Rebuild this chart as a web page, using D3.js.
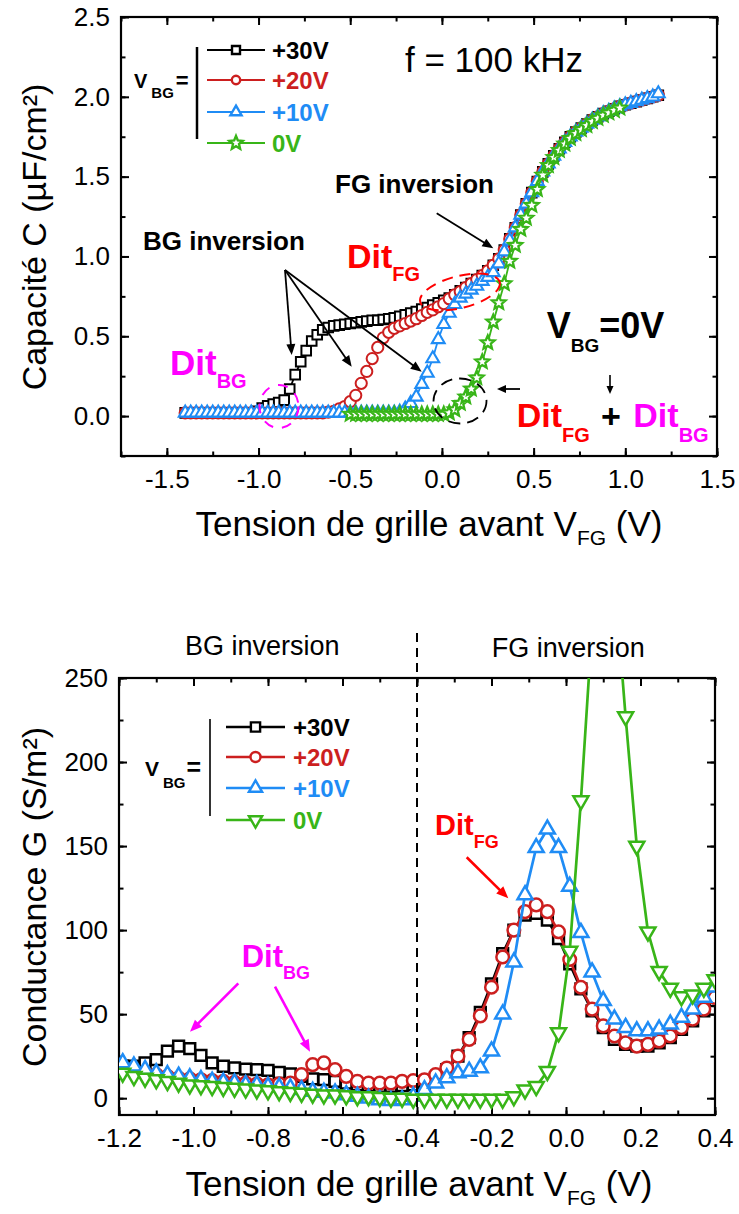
<!DOCTYPE html>
<html><head><meta charset="utf-8">
<script src="https://cdn.jsdelivr.net/npm/d3@7/dist/d3.min.js"></script>
<style>
html,body{margin:0;padding:0;background:#fff;}
svg{display:block;font-family:'Liberation Sans',Arial,Helvetica,sans-serif;}
</style></head><body>
<svg id="chart" width="739" height="1214"></svg>
<script>
// ================= DATA =================
const seriesLabels = ["+30V", "+20V", "+10V", "0V"];
const capXTicks = [-1.5, -1.0, -0.5, 0.0, 0.5, 1.0, 1.5];
const capYTicks = [0.0, 0.5, 1.0, 1.5, 2.0, 2.5];
const condXTicks = [-1.2, -1.0, -0.8, -0.6, -0.4, -0.2, 0.0, 0.2, 0.4];
const condYTicks = [0, 50, 100, 150, 200, 250];

// Top chart: capacitance C (uF/cm2) vs V_FG (V)
const capV = [
 -1.40,-1.37,-1.34,-1.31,-1.28,-1.25,-1.22,-1.19,-1.16,-1.13,
 -1.10,-1.07,-1.04,-1.01,-0.98,-0.95,-0.92,-0.89,-0.86,-0.83,
 -0.80,-0.77,-0.74,-0.71,-0.68,-0.65,-0.62,-0.59,-0.56,-0.53,
 -0.50,-0.47,-0.44,-0.41,-0.38,-0.35,-0.32,-0.29,-0.26,-0.23,
 -0.20,-0.17,-0.14,-0.11,-0.08,-0.05,-0.02,0.01,0.04,0.07,
 0.10,0.13,0.16,0.19,0.22,0.25,0.28,0.31,0.34,0.37,
 0.40,0.43,0.46,0.49,0.52,0.55,0.58,0.61,0.64,0.67,
 0.70,0.73,0.76,0.79,0.82,0.85,0.88,0.91,0.94,0.97,
 1.00,1.03,1.06,1.09,1.12,1.15,1.18];
const cap30 = [
 0.02,0.02,0.02,0.02,0.02,0.02,0.02,0.02,0.02,0.02,
 0.02,0.02,0.02,0.03,0.05,0.065,0.075,0.085,0.10,0.17,
 0.26,0.34,0.41,0.47,0.51,0.54,0.555,0.565,0.57,0.575,
 0.58,0.585,0.59,0.595,0.60,0.60,0.605,0.61,0.615,0.625,
 0.635,0.645,0.655,0.67,0.68,0.695,0.71,0.725,0.74,0.76,
 0.785,0.805,0.83,0.855,0.88,0.91,0.945,0.985,1.04,1.11,
 1.18,1.26,1.33,1.40,1.47,1.53,1.58,1.63,1.675,1.715,
 1.75,1.78,1.805,1.83,1.855,1.875,1.895,1.91,1.925,1.94,
 1.95,1.96,1.97,1.98,1.99,2.00,2.01];
const cap20 = [
 0.02,0.02,0.02,0.02,0.02,0.02,0.02,0.02,0.02,0.02,
 0.02,0.02,0.02,0.02,0.02,0.02,0.02,0.02,0.02,0.02,
 0.02,0.02,0.02,0.02,0.02,0.02,0.025,0.03,0.045,0.06,
 0.09,0.13,0.205,0.28,0.36,0.43,0.49,0.525,0.55,0.565,
 0.58,0.595,0.61,0.63,0.65,0.665,0.685,0.705,0.735,0.76,
 0.78,0.805,0.83,0.855,0.88,0.91,0.945,0.985,1.04,1.11,
 1.18,1.26,1.33,1.40,1.47,1.53,1.58,1.63,1.675,1.715,
 1.75,1.78,1.805,1.83,1.855,1.875,1.895,1.91,1.925,1.94,
 1.95,1.96,1.97,1.98,1.99,2.00,2.01];
const cap10 = [
 0.02,0.02,0.02,0.02,0.02,0.02,0.02,0.02,0.02,0.02,
 0.02,0.02,0.02,0.02,0.02,0.02,0.02,0.02,0.02,0.02,
 0.02,0.02,0.02,0.02,0.02,0.02,0.02,0.02,0.02,0.02,
 0.02,0.02,0.02,0.02,0.02,0.02,0.02,0.02,0.02,0.025,
 0.045,0.08,0.12,0.20,0.27,0.36,0.48,0.575,0.645,0.70,
 0.74,0.765,0.79,0.815,0.845,0.87,0.90,0.955,1.03,1.10,
 1.18,1.26,1.33,1.40,1.47,1.53,1.58,1.63,1.675,1.715,
 1.75,1.78,1.805,1.83,1.855,1.875,1.895,1.91,1.925,1.94,
 1.95,1.96,1.97,1.98,1.99,2.00,2.02];
const cap0V = capV.slice(30, 80);   // the 0V sweep covers -0.50 .. 0.97 V
const cap0 = [
 0.012,0.012,0.012,0.012,0.012,0.012,0.012,0.012,0.012,0.012,
 0.012,0.012,0.012,0.012,0.012,0.012,0.012,0.012,
 0.02,0.04,0.08,0.12,0.17,0.24,0.34,0.46,0.59,0.71,
 0.83,0.97,1.07,1.17,1.24,1.32,1.42,1.51,1.57,1.62,
 1.665,1.705,1.74,1.77,1.795,1.82,1.845,1.865,1.885,1.90,1.915,1.93];

// Bottom chart: conductance G (S/m2) vs V_FG (V)
const condV = [
 -1.19,-1.16,-1.13,-1.10,-1.07,-1.04,-1.01,-0.98,-0.95,-0.92,
 -0.89,-0.86,-0.83,-0.80,-0.77,-0.74,-0.71,-0.68,-0.65,-0.62,
 -0.59,-0.56,-0.53,-0.50,-0.47,-0.44,-0.41,-0.38,-0.35,-0.32,
 -0.29,-0.26,-0.23,-0.20,-0.17,-0.14,-0.11,-0.08,-0.05,-0.02,
 0.01,0.04,0.07,0.10,0.13,0.16,0.19,0.22,0.25,0.28,
 0.31,0.34,0.37,0.40];
const cond30 = [
 19,19,21,23,28,31,29.5,25.5,21,19,
 18,17.3,17,16.5,15.3,14.5,13,11.5,11,10,
 9,8,7.3,7,7,7.5,8,9,12,17,
 25,36,51,68,86,100,109,110,106,95,
 80,65,52,42,35,32,31,31,33,36,
 41,46,52,58];
const cond20 = [
 17,16,15,14,13,12,11.5,11,10.5,10,
 9.5,9,8.5,8,8.5,9,14,20,21,17,
 13,10,9,9,9,10,10.5,11,14,18,
 25,35,49,66,84,100,111,115,111,99,
 82.5,66,53,43,37,33,31,32,34,37,
 42,47,53,60];
const cond10 = [
 21,19,17,15,14,13,12,11,10,9.5,
 9,8,8,7,6.5,6,5,4,3.5,3,
 2,1,0,-1,-1.5,-1,1,5,9,12,
 15,16,18,28,50,81,121,149,160,149,
 126,98.5,75,58,47,42,40,40,41,44,
 48,53,60,66];
const cond0 = [
 15,13,12,11,10,9,8,7.5,7,6.5,
 6,5.5,5,4.5,4,3.5,3,2.5,2,2,
 1.5,1,1,0.5,0,0,-0.5,-0.5,-0.5,-0.5,
 -0.5,-0.5,-0.5,-0.5,-0.5,1,5,7,16,39,
 87.5,177,280,340,310,227,150,99,75.5,65.5,
 60.5,61.5,65.5,70.5];

// ================= STYLE =================
const C = {k: '#000000', r: '#cc1f1f', b: '#1f8cf5', g: '#38b518', dr: '#ff0000', mg: '#ff00ff'};
const svg = d3.select('#chart');
const defs = svg.append('defs');

function symPath(type, s) {
  const h = s * Math.sqrt(3);
  switch (type) {
    case 'square': return `M${-s},${-s}H${s}V${s}H${-s}Z`;
    case 'circle': return `M${s},0A${s},${s} 0 1,1 ${-s},0A${s},${s} 0 1,1 ${s},0Z`;
    case 'up': return `M0,${-h * 2 / 3}L${s},${h / 3}L${-s},${h / 3}Z`;
    case 'down': return `M0,${h * 2 / 3}L${s},${-h / 3}L${-s},${-h / 3}Z`;
    case 'star': {
      let d = '';
      for (let i = 0; i < 10; i++) {
        const r = i % 2 === 0 ? s : s * 0.45;
        const a = -Math.PI / 2 + i * Math.PI / 5;
        d += (i ? 'L' : 'M') + (r * Math.cos(a)).toFixed(2) + ',' + (r * Math.sin(a)).toFixed(2);
      }
      return d + 'Z';
    }
  }
}

function drawFrame(R, xs, ys, xMaj, xMin, yMaj, yMin, xFmt, yFmt) {
  const g = svg.append('g');
  const mk = (axis, tx, ty) => g.append('g').attr('transform', `translate(${tx},${ty})`).call(axis);
  mk(d3.axisBottom(xs).tickValues(xMin).tickSizeInner(-4.5).tickSizeOuter(0).tickFormat(''), 0, R.b);
  mk(d3.axisTop(xs).tickValues(xMin).tickSizeInner(-4.5).tickSizeOuter(0).tickFormat(''), 0, R.t);
  mk(d3.axisLeft(ys).tickValues(yMin).tickSizeInner(-4.5).tickSizeOuter(0).tickFormat(''), R.l, 0);
  mk(d3.axisRight(ys).tickValues(yMin).tickSizeInner(-4.5).tickSizeOuter(0).tickFormat(''), R.r, 0);
  mk(d3.axisBottom(xs).tickValues(xMaj).tickSizeInner(-8).tickSizeOuter(0).tickPadding(14).tickFormat(xFmt), 0, R.b);
  mk(d3.axisTop(xs).tickValues(xMaj).tickSizeInner(-8).tickSizeOuter(0).tickFormat(''), 0, R.t);
  mk(d3.axisLeft(ys).tickValues(yMaj).tickSizeInner(-8).tickSizeOuter(0).tickPadding(11).tickFormat(yFmt), R.l, 0);
  mk(d3.axisRight(ys).tickValues(yMaj).tickSizeInner(-8).tickSizeOuter(0).tickFormat(''), R.r, 0);
  g.selectAll('.domain').remove();
  g.selectAll('.tick line').attr('stroke', '#000').attr('stroke-width', 2);
  g.selectAll('.tick text').attr('font-size', 26).attr('fill', '#000')
    .attr('font-family', "'Liberation Sans',Arial,sans-serif");
  g.append('rect').attr('x', R.l).attr('y', R.t).attr('width', R.r - R.l).attr('height', R.b - R.t)
    .attr('fill', 'none').attr('stroke', '#000').attr('stroke-width', 2.2);
}

function clipFor(id, R) {
  defs.append('clipPath').attr('id', id).append('rect')
    .attr('x', R.l).attr('y', R.t).attr('width', R.r - R.l).attr('height', R.b - R.t);
}

function drawSeries(g, xs, ys, xv, yv, color, type, size, lw, sw) {
  const pts = xv.map((v, i) => [v, yv[i]]);
  g.append('path').attr('d', d3.line().x(d => xs(d[0])).y(d => ys(d[1]))(pts))
    .attr('fill', 'none').attr('stroke', color).attr('stroke-width', lw).attr('stroke-linejoin', 'round');
  g.append('g').selectAll('path').data(pts).join('path')
    .attr('transform', d => `translate(${xs(d[0])},${ys(d[1])})`)
    .attr('d', symPath(type, size)).attr('fill', '#fff').attr('stroke', color).attr('stroke-width', sw);
}

function richText(g, x, y, parts, anchor) {
  const t = g.append('text').attr('x', x).attr('y', y).attr('text-anchor', anchor || 'start');
  let cur = 0;
  parts.forEach(p => {
    const ts = t.append('tspan').text(p.t).attr('font-size', p.s)
      .attr('font-weight', p.w || 'normal').attr('fill', p.c || '#000');
    const target = p.dy || 0;
    if (target !== cur) ts.attr('dy', target - cur);
    cur = target;
    if (p.dx) ts.attr('dx', p.dx);
  });
  return t;
}

function arrow(g, x1, y1, x2, y2, color, w, hl, hw) {
  const dx = x2 - x1, dy = y2 - y1, L = Math.hypot(dx, dy), ux = dx / L, uy = dy / L;
  const bx = x2 - ux * hl, by = y2 - uy * hl;
  g.append('line').attr('x1', x1).attr('y1', y1).attr('x2', bx + ux).attr('y2', by + uy)
    .attr('stroke', color).attr('stroke-width', w);
  g.append('path').attr('d', `M${x2},${y2}L${bx - uy * hw},${by + ux * hw}L${bx + uy * hw},${by - ux * hw}Z`)
    .attr('fill', color);
}

const fmt1 = d => d.toFixed(1);
const fmt0 = d => String(d);

// ================= TOP CHART =================
const T = {l: 121, r: 717, t: 17, b: 456};
const xT = d3.scaleLinear().domain([-1.75, 1.5]).range([T.l, T.r]);
const yT = d3.scaleLinear().domain([-0.25, 2.5]).range([T.b, T.t]);
clipFor('clipT', T);
drawFrame(T, xT, yT, capXTicks, d3.range(-1.75, 1.501, 0.25), capYTicks, d3.range(-0.25, 2.501, 0.25), fmt1, fmt1);

const gT = svg.append('g').attr('clip-path', 'url(#clipT)');
drawSeries(gT, xT, yT, capV, cap30, C.k, 'square', 4.8, 1.8, 2);
drawSeries(gT, xT, yT, capV, cap20, C.r, 'circle', 5.6, 1.8, 2);
drawSeries(gT, xT, yT, capV, cap10, C.b, 'up', 6.4, 1.8, 2.1);
drawSeries(gT, xT, yT, cap0V, cap0, C.g, 'star', 7.2, 1.8, 2.3);

// axis titles
const aT = svg.append('g');
richText(aT.append('g').attr('transform', 'translate(46,237) rotate(-90)'), 0, 0,
  [{t: 'Capacité C (µF/cm²)', s: 34}], 'middle');
richText(aT, 429, 536, [{t: 'Tension de grille avant V', s: 35}, {t: 'FG', s: 21, dy: 9}, {t: ' (V)', s: 35, dy: 0}], 'middle');

// legend (top)
const lgT = svg.append('g');
richText(lgT, 134, 88, [{t: 'V', s: 20, w: 'bold'}, {t: 'BG', s: 15, w: 'bold', dy: 10, dx: 4}, {t: '=', s: 22, w: 'bold', dy: 0, dx: 2}]);
lgT.append('line').attr('x1', 197).attr('x2', 197).attr('y1', 47).attr('y2', 139).attr('stroke', '#000').attr('stroke-width', 2.5);
const legTY = [50, 80, 112, 143];
const legCols = [C.k, C.r, C.b, C.g];
const legTypesT = ['square', 'circle', 'up', 'star'];
const legSizeT = [4, 4.2, 5.6, 7];
seriesLabels.forEach((lab, i) => {
  lgT.append('line').attr('x1', 207).attr('x2', 265).attr('y1', legTY[i]).attr('y2', legTY[i])
    .attr('stroke', legCols[i]).attr('stroke-width', 2);
  lgT.append('path').attr('transform', `translate(236,${legTY[i]})`).attr('d', symPath(legTypesT[i], legSizeT[i]))
    .attr('fill', '#fff').attr('stroke', legCols[i]).attr('stroke-width', 2.4);
  lgT.append('text').attr('x', 272).attr('y', legTY[i] + 8.5).attr('font-size', 24).attr('font-weight', 'bold')
    .attr('fill', legCols[i]).text(lab);
});

// annotations (top)
const anT = svg.append('g');
anT.append('text').attr('x', 405).attr('y', 72).attr('font-size', 35).text('f = 100 kHz');
anT.append('text').attr('x', 335).attr('y', 193).attr('font-size', 26).attr('font-weight', 'bold').text('FG inversion');
arrow(anT, 436.7, 213.3, 493.3, 248.3, '#000', 1.8, 11, 4.5);
anT.append('text').attr('x', 143).attr('y', 250).attr('font-size', 26).attr('font-weight', 'bold').text('BG inversion');
arrow(anT, 285, 270, 291.7, 355, '#000', 1.8, 11, 4.5);
arrow(anT, 285, 270, 351.7, 366.7, '#000', 1.8, 11, 4.5);
arrow(anT, 285, 270, 421.7, 371.7, '#000', 1.8, 11, 4.5);
richText(anT, 347, 268, [{t: 'Dit', s: 34, w: 'bold', c: C.dr}, {t: 'FG', s: 20, w: 'bold', c: C.dr, dy: 13}]);
anT.append('ellipse').attr('cx', 460).attr('cy', 292).attr('rx', 41).attr('ry', 16)
  .attr('transform', 'rotate(-14,460,292)').attr('fill', 'none').attr('stroke', C.dr)
  .attr('stroke-width', 2).attr('stroke-dasharray', '11,7');
richText(anT, 170, 375, [{t: 'Dit', s: 35, w: 'bold', c: C.mg}, {t: 'BG', s: 20, w: 'bold', c: C.mg, dy: 13}]);
anT.append('ellipse').attr('cx', 279).attr('cy', 406.5).attr('rx', 19.5).attr('ry', 21.5)
  .attr('fill', 'none').attr('stroke', C.mg).attr('stroke-width', 2).attr('stroke-dasharray', '10,9');
anT.append('ellipse').attr('cx', 460).attr('cy', 401).attr('rx', 26.5).attr('ry', 22.5)
  .attr('fill', 'none').attr('stroke', '#000').attr('stroke-width', 1.8).attr('stroke-dasharray', '12,7');
arrow(anT, 520, 389, 497, 389, '#000', 1.8, 9, 4);
richText(anT, 546.7, 338, [{t: 'V', s: 36, w: 'bold'}, {t: 'BG', s: 19, w: 'bold', dy: 14}, {t: '=0V', s: 36, w: 'bold', dy: 0}]);
arrow(anT, 610, 375, 610, 394, '#000', 1.6, 8, 3.5);
richText(anT, 516.7, 427, [{t: 'Dit', s: 34, w: 'bold', c: C.dr}, {t: 'FG', s: 20, w: 'bold', c: C.dr, dy: 15}]);
anT.append('text').attr('x', 601).attr('y', 428).attr('font-size', 34).attr('font-weight', 'bold').text('+');
richText(anT, 633.3, 427, [{t: 'Dit', s: 34, w: 'bold', c: C.mg}, {t: 'BG', s: 20, w: 'bold', c: C.mg, dy: 15}]);

// ================= BOTTOM CHART =================
const B = {l: 119, r: 715, t: 678, b: 1115};
const xB = d3.scaleLinear().domain([-1.2, 0.4]).range([B.l, B.r]);
const yB = d3.scaleLinear().domain([-10, 250]).range([B.b, B.t]);
clipFor('clipB', B);
drawFrame(B, xB, yB, condXTicks, d3.range(-1.2, 0.401, 0.1), condYTicks, d3.range(0, 250.1, 25), fmt1, fmt0);

const gB = svg.append('g').attr('clip-path', 'url(#clipB)');
drawSeries(gB, xB, yB, condV, cond30, C.k, 'square', 5.4, 2.7, 2.5);
drawSeries(gB, xB, yB, condV, cond20, C.r, 'circle', 6.3, 2.7, 2.5);
drawSeries(gB, xB, yB, condV, cond10, C.b, 'up', 7.5, 2.7, 2.5);
drawSeries(gB, xB, yB, condV, cond0, C.g, 'down', 7.5, 2.7, 2.5);

// dashed separator at V_FG = -0.4 V
svg.append('line').attr('x1', xB(-0.4)).attr('x2', xB(-0.4)).attr('y1', 633).attr('y2', B.b)
  .attr('stroke', '#000').attr('stroke-width', 2).attr('stroke-dasharray', '9,6');

const aB = svg.append('g');
richText(aB.append('g').attr('transform', 'translate(46,897) rotate(-90)'), 0, 0,
  [{t: 'Conductance G (S/m²)', s: 34}], 'middle');
richText(aB, 419, 1196, [{t: 'Tension de grille avant V', s: 35}, {t: 'FG', s: 21, dy: 9}, {t: ' (V)', s: 35, dy: 0}], 'middle');
aB.append('text').attr('x', 185).attr('y', 655).attr('font-size', 27).text('BG inversion');
aB.append('text').attr('x', 491.7).attr('y', 657).attr('font-size', 27).text('FG inversion');

// legend (bottom)
const lgB = svg.append('g');
richText(lgB, 145, 776, [{t: 'V', s: 21, w: 'bold'}, {t: 'BG', s: 15, w: 'bold', dy: 12, dx: 4}, {t: '=', s: 25, w: 'bold', dy: 0, dx: 1}]);
lgB.append('line').attr('x1', 210).attr('x2', 210).attr('y1', 719).attr('y2', 816).attr('stroke', '#000').attr('stroke-width', 1.6);
const legBY = [727, 757, 788, 820];
const legTypesB = ['square', 'circle', 'up', 'down'];
const legSizeB = [4.6, 5, 6.6, 6.6];
seriesLabels.forEach((lab, i) => {
  lgB.append('line').attr('x1', 226).attr('x2', 285).attr('y1', legBY[i]).attr('y2', legBY[i])
    .attr('stroke', legCols[i]).attr('stroke-width', 2.5);
  lgB.append('path').attr('transform', `translate(255.5,${legBY[i]})`).attr('d', symPath(legTypesB[i], legSizeB[i]))
    .attr('fill', '#fff').attr('stroke', legCols[i]).attr('stroke-width', 2.4);
  lgB.append('text').attr('x', 293).attr('y', legBY[i] + 8.5).attr('font-size', 24).attr('font-weight', 'bold')
    .attr('fill', legCols[i]).text(lab);
});

// annotations (bottom)
const anB = svg.append('g');
richText(anB, 435, 835, [{t: 'Dit', s: 29, w: 'bold', c: C.dr}, {t: 'FG', s: 18, w: 'bold', c: C.dr, dy: 13}]);
arrow(anB, 466.7, 857.3, 508.3, 898.3, C.dr, 2.6, 12, 5);
richText(anB, 241.7, 967, [{t: 'Dit', s: 31, w: 'bold', c: C.mg}, {t: 'BG', s: 18, w: 'bold', c: C.mg, dy: 12}]);
arrow(anB, 238.3, 983.3, 190, 1031.7, C.mg, 2.6, 12, 5);
arrow(anB, 275, 986.7, 310, 1051.7, C.mg, 2.6, 12, 5);
</script>
</body></html>
